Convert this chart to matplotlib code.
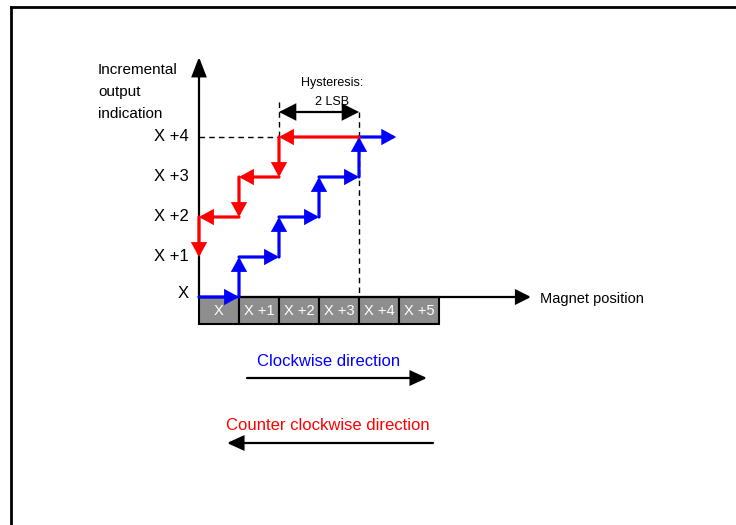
import matplotlib
matplotlib.use("Agg")
import matplotlib.pyplot as plt
from matplotlib.lines import Line2D
from matplotlib.patches import Rectangle
from matplotlib import font_manager

# ---------------- data ----------------
level_labels = ["X", "X +1", "X +2", "X +3", "X +4"]
position_labels = ["X", "X +1", "X +2", "X +3", "X +4", "X +5"]
cw_levels = [0, 1, 2, 3, 4]          # output level while turning clockwise
cw_switch = [1, 2, 3, 4]             # position where output steps up (clockwise)
cw_end = 4.93                        # end of last clockwise run
ccw_start = 4                        # counter clockwise run starts here at top level
ccw_levels = [4, 3, 2]               # levels visited turning counter clockwise
ccw_switch = [2, 1, 0]               # position where output steps down
ccw_last_level = 1
hysteresis_lsb = 2
y_title = ["Incremental", "output", "indication"]
x_title = "Magnet position"
hyst_text = ["Hysteresis:", "2 LSB"]
cw_text = "Clockwise direction"
ccw_text = "Counter clockwise direction"

BLUE = "#0000ff"
RED = "#ff0000"
GRAY = "#8e8e8e"

names = {f.name for f in font_manager.fontManager.ttflist}
if "Liberation Sans Narrow" in names:
    FONT = ["Liberation Sans Narrow", "Liberation Sans", "DejaVu Sans"]
    S = 1.2
else:
    FONT = ["Liberation Sans", "DejaVu Sans"]
    S = 1.0

fig = plt.figure(figsize=(7.36, 5.25), dpi=100)
ax = fig.add_axes([0, 0, 1, 1])
ax.set_xlim(-4.975, 13.425)
ax.set_ylim(-5.7, 7.425)
ax.axis("off")

# outer frame (partial box as in the source)
fig.add_artist(Line2D([11 / 736, 11 / 736], [0, 1 - 7 / 525], color="black", lw=2, transform=fig.transFigure))
fig.add_artist(Line2D([11 / 736, 1], [1 - 7 / 525, 1 - 7 / 525], color="black", lw=2, transform=fig.transFigure))


def arrow(x0, y0, x1, y1, color, lw=2.3, ms=18, hl=0.4, hw=0.22, style="-|>", z=5):
    ax.annotate("", xy=(x1, y1), xytext=(x0, y0),
                arrowprops=dict(arrowstyle=f"{style},head_length={hl},head_width={hw}",
                                color=color, lw=lw, shrinkA=0, shrinkB=0,
                                mutation_scale=ms, joinstyle="miter"),
                zorder=z)


# position cells
for i, lab in enumerate(position_labels):
    ax.add_patch(Rectangle((i, -0.675), 1, 0.675, facecolor=GRAY, edgecolor="black", lw=1.5, zorder=2))
    ax.text(i + 0.5, -0.35, lab, color="white", ha="center", va="center", fontsize=10.5 * S, family=FONT, zorder=3)

# axes
arrow(0, -0.02, 0, 6.0, "black", lw=1.6, ms=18, hl=0.65, hw=0.25, z=3)
arrow(0, 0, 8.3, 0, "black", lw=1.6, ms=18, hl=0.5, hw=0.25, z=3)

# level labels
for k, lab in enumerate(level_labels):
    ax.text(-0.25, k if k > 0 else 0.1, lab, ha="right", va="center", fontsize=12 * S, family=FONT)

# axis titles
for j, line in enumerate(y_title):
    ax.text(-2.525, 5.675 - 0.55 * j, line, ha="left", va="center", fontsize=11 * S, family=FONT)
ax.text(8.525, -0.05, x_title, ha="left", va="center", fontsize=10.5 * S, family=FONT)

# dashed guides
top = cw_levels[-1]
ax.plot([0, ccw_switch[0]], [top, top], color="black", lw=1, ls=(0, (4, 3)), zorder=1)
ax.plot([ccw_switch[0], ccw_switch[0]], [4.88, top], color="black", lw=1, ls=(0, (4, 3)), zorder=1)
ax.plot([cw_switch[-1], cw_switch[-1]], [4.63, 0], color="black", lw=1, ls=(0, (4, 3)), zorder=1)

# hysteresis
arrow(ccw_switch[0], 4.625, ccw_switch[0] + hysteresis_lsb, 4.625, "black", lw=1.6, ms=18, hl=0.55, hw=0.28, style="<|-|>")
ax.text(3.33, 5.35, hyst_text[0], ha="center", va="center", fontsize=9 * S, family=FONT)
ax.text(3.33, 4.875, hyst_text[1], ha="center", va="center", fontsize=9 * S, family=FONT)

# clockwise path (blue)
x = 0
for k, lev in enumerate(cw_levels):
    x_end = cw_switch[k] if k < len(cw_switch) else cw_end
    arrow(x, lev, x_end, lev, BLUE)
    if k < len(cw_switch):
        arrow(x_end, lev, x_end, cw_levels[k + 1], BLUE)
    x = x_end

# counter clockwise path (red)
x = ccw_start
for k, lev in enumerate(ccw_levels):
    sw = ccw_switch[k]
    arrow(x, lev, sw, lev, RED)
    nxt = ccw_levels[k + 1] if k + 1 < len(ccw_levels) else ccw_last_level
    arrow(sw, lev, sw, nxt, RED)
    x = sw

# direction legends
ax.text(3.25, -1.625, cw_text, color=BLUE, ha="center", va="center", fontsize=12 * S, family=FONT)
arrow(1.2, -2.025, 5.7, -2.025, "black", lw=1.6, ms=18, hl=0.55, hw=0.25)
ax.text(3.225, -3.225, ccw_text, color=RED, ha="center", va="center", fontsize=12 * S, family=FONT)
arrow(5.85, -3.65, 0.7, -3.65, "black", lw=1.6, ms=18, hl=0.55, hw=0.25)

fig.savefig("out.png", dpi=100)
